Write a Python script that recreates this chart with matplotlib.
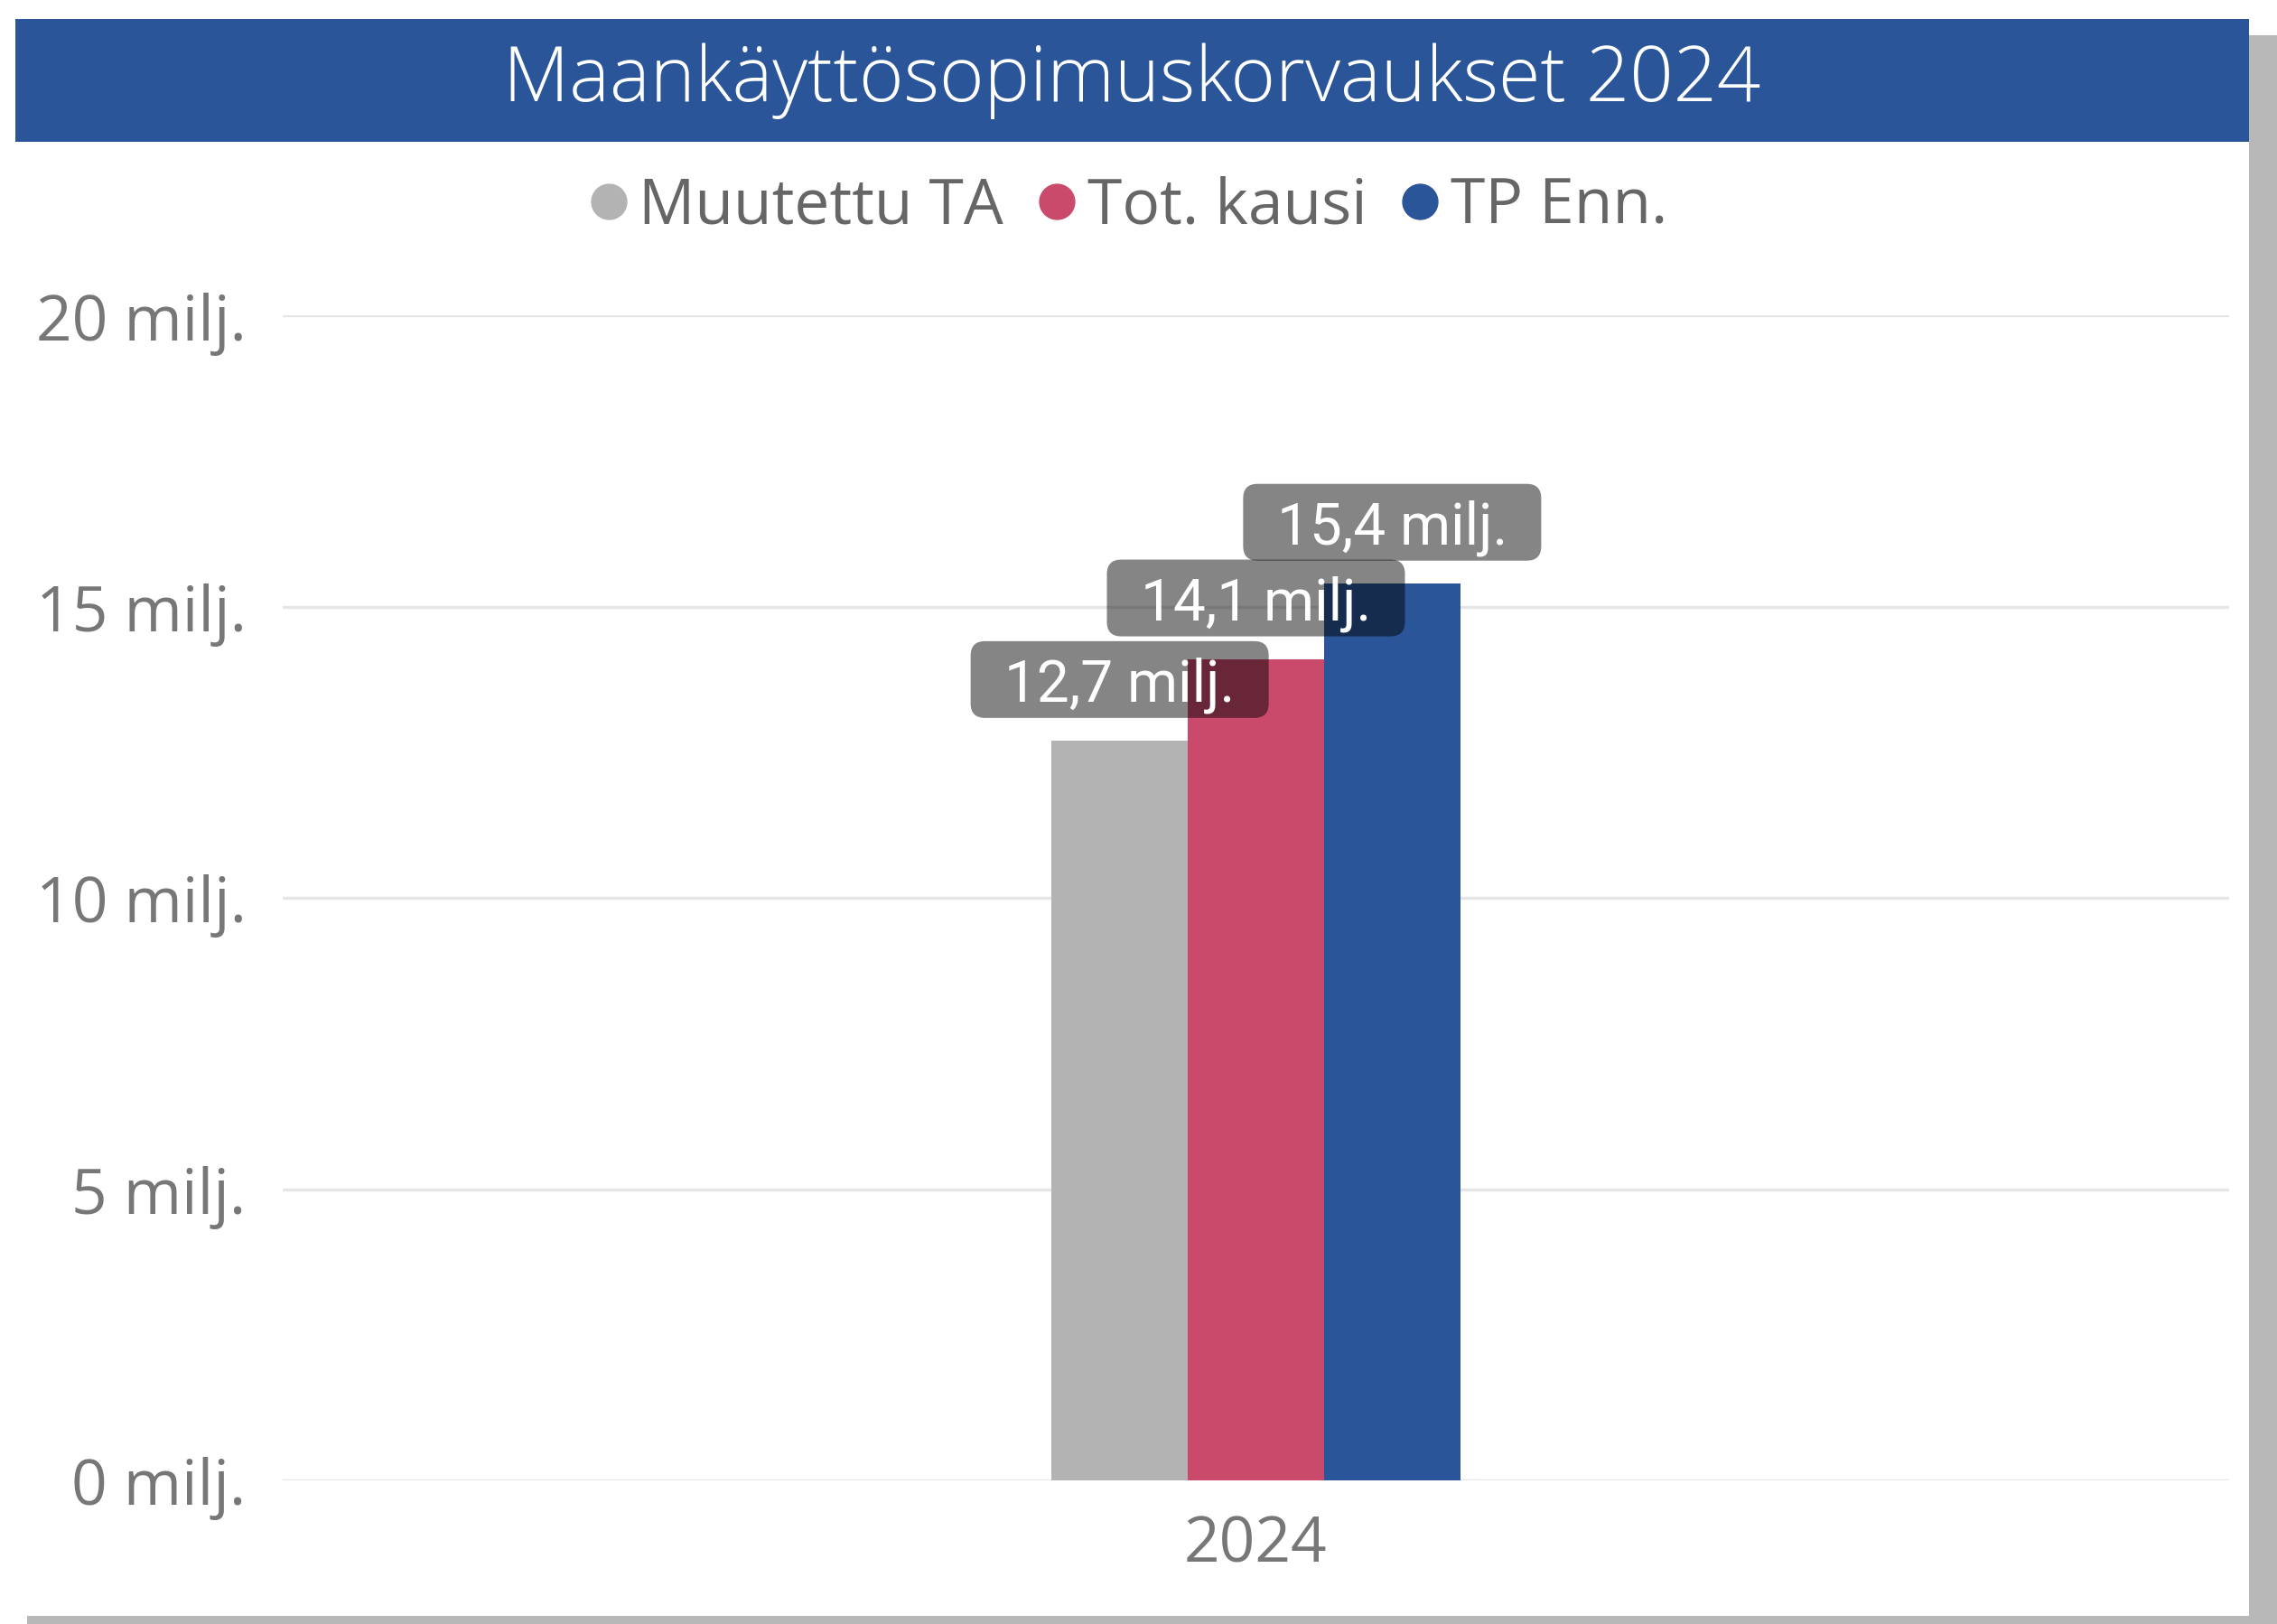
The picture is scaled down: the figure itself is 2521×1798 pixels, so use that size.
import numpy as np
import matplotlib
matplotlib.use('Agg')
import matplotlib.pyplot as plt
from matplotlib.patches import Rectangle, FancyBboxPatch
from matplotlib.lines import Line2D

# Maankäyttösopimuskorvaukset 2024 (milj. euroa)
vuodet = ['2024']
sarjat = ['Muutettu TA', 'Tot. kausi', 'TP Enn.']
arvot = [12.7, 14.1, 15.4]
arvo_tekstit = ['12,7 milj.', '14,1 milj.', '15,4 milj.']
y_ticks = [0, 5, 10, 15, 20]
y_tick_labels = ['0 milj.', '5 milj.', '10 milj.', '15 milj.', '20 milj.']
varit = ['#b3b3b3', '#ca4a6c', '#2a5599']

W, H = 2521, 1799
DPI = 100
plt.rcParams['font.family'] = ['Open Sans', 'DejaVu Sans']

fig = plt.figure(figsize=(W / DPI, H / DPI), dpi=DPI, facecolor='white')

# tausta-akseli pikseleinä (y alaspäin)
bg = fig.add_axes([0, 0, 1, 1], zorder=0)
bg.set_xlim(0, W)
bg.set_ylim(H, 0)
bg.axis('off')

# varjo, kortti ja otsikkopalkki
bg.add_patch(Rectangle((30, 40), W - 30, H - 40, color='#b8b8b8', lw=0))
bg.add_patch(Rectangle((17, 22), 2473, 1768, color='white', lw=0))
bg.add_patch(Rectangle((17, 22), 2473, 136, color='#2a5599', lw=0))
bg.text(1253, 90, 'Maankäyttösopimuskorvaukset 2024', color='white',
        fontsize=61, fontweight='light', ha='center', va='center')

# varsinainen kuvaaja
ax = fig.add_axes([313 / W, (H - 1640) / H, (2468 - 313) / W, (1640 - 350) / H],
                  zorder=2)
ax.patch.set_alpha(0)
leveys = 0.07
x = np.arange(len(vuodet))
for i, (s, v, c) in enumerate(zip(sarjat, arvot, varit)):
    ax.bar(x + (i - 1) * leveys, [v], width=leveys, color=c, label=s,
           zorder=2)
ax.set_xlim(-0.5, 0.5)
ax.set_ylim(0, 20)
ax.set_yticks(y_ticks, y_tick_labels)
ax.set_xticks(x, vuodet)
ax.grid(axis='y', color='#e6e6e6', lw=2.4, zorder=0)
ax.set_axisbelow(True)
for sp in ax.spines.values():
    sp.set_visible(False)
ax.tick_params(length=0, labelsize=50, labelcolor='#777777')
ax.tick_params(axis='y', pad=29)
ax.tick_params(axis='x', pad=26)

# arvolaatikot
to_px = ax.transData + bg.transData.inverted()
bw, bh, rako = 330, 85, 25
for i, (v, t) in enumerate(zip(arvot, arvo_tekstit)):
    cx, top = to_px.transform((x[0] + (i - 1) * leveys, v))
    box = FancyBboxPatch((cx - bw / 2, top - rako - bh), bw, bh,
                         boxstyle='round,pad=0,rounding_size=16',
                         transform=bg.transData, fc='black', alpha=0.48,
                         lw=0, zorder=3, clip_on=False)
    ax.add_patch(box)
    ax.text(cx, top - rako - bh / 2 + 23, t, transform=bg.transData,
            ha='center', va='baseline', color='white', fontsize=46,
            family=['Roboto', 'DejaVu Sans'], zorder=4, clip_on=False)

# selite
kahvat = [Line2D([], [], ls='none', marker='o', ms=28, mfc=c, mec=c)
          for c in varit]
fig.legend(kahvat, sarjat, loc='center', bbox_to_anchor=(1250 / W, 1 - 230 / H),
           ncol=3, frameon=False, fontsize=50, labelcolor='#666666',
           handlelength=0.57, handletextpad=0.2, columnspacing=0.56,
           borderpad=0)

fig.savefig('out.png', dpi=DPI, facecolor='white')
